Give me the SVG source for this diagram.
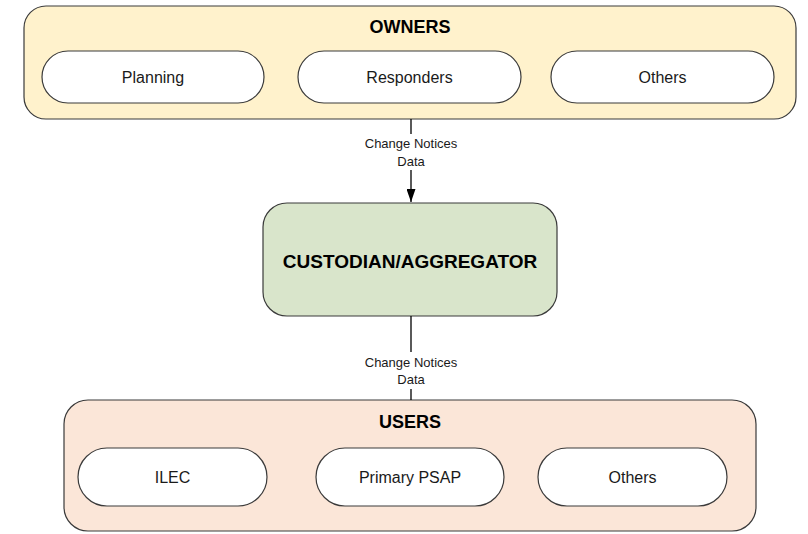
<svg xmlns="http://www.w3.org/2000/svg" width="808" height="534" viewBox="0 0 808 534">
  <style>
    .group { stroke: #3a3a3a; stroke-width: 1.2; }
    .owners { fill: #fff2cc; }
    .users { fill: #fbe6d8; }
    .core { fill: #d9e5cb; stroke: #3a3a3a; stroke-width: 1.2; }
    .pill { fill: #ffffff; stroke: #3a3a3a; stroke-width: 1.2; }
    .title { font-family: "Liberation Sans", Arial, sans-serif; font-weight: bold; font-size: 18px; fill: #000; text-anchor: middle; }
    .item { font-family: "Liberation Sans", Arial, sans-serif; font-size: 16px; fill: #1a1a1a; text-anchor: middle; }
    .label { font-family: "Liberation Sans", Arial, sans-serif; font-size: 13px; fill: #1a1a1a; text-anchor: middle; }
    .link { stroke: #000; stroke-width: 1.3; fill: none; }
  </style>
  <defs>
    <marker id="arrow" markerWidth="13" markerHeight="9" refX="13" refY="4.5" orient="auto" markerUnits="userSpaceOnUse">
      <path d="M0,0 L13,4.5 L0,9 z" fill="#000"/>
    </marker>
  </defs>
  <rect width="808" height="534" fill="#ffffff"/>

  <!-- data owners -->
  <g id="owners">
    <rect class="group owners" x="24" y="6" width="772" height="113" rx="22" ry="22"/>
    <text class="title" x="410" y="33">OWNERS</text>
  </g>
  <g id="owner-planning">
    <rect class="pill" x="42" y="51" width="222" height="52" rx="26" ry="26"/>
    <text class="item" x="153" y="83">Planning</text>
  </g>
  <g id="owner-responders">
    <rect class="pill" x="298" y="51" width="223" height="52" rx="26" ry="26"/>
    <text class="item" x="409.5" y="83">Responders</text>
  </g>
  <g id="owner-others">
    <rect class="pill" x="551" y="51" width="223" height="52" rx="26" ry="26"/>
    <text class="item" x="662.5" y="83">Others</text>
  </g>

  <!-- central custodian -->
  <g id="custodian">
    <rect class="core" x="263" y="203" width="294" height="113" rx="24" ry="24"/>
    <text class="title" x="410" y="268" style="font-size:19px">CUSTODIAN/AGGREGATOR</text>
  </g>

  <!-- data users -->
  <g id="users">
    <rect class="group users" x="64" y="400" width="692" height="131" rx="24" ry="24"/>
    <text class="title" x="410" y="428">USERS</text>
  </g>
  <g id="user-ilec">
    <rect class="pill" x="78" y="448" width="189" height="58" rx="29" ry="29"/>
    <text class="item" x="172.5" y="483">ILEC</text>
  </g>
  <g id="user-psap">
    <rect class="pill" x="316" y="448" width="188" height="58" rx="29" ry="29"/>
    <text class="item" x="410" y="483">Primary PSAP</text>
  </g>
  <g id="user-others">
    <rect class="pill" x="538" y="448" width="189" height="58" rx="29" ry="29"/>
    <text class="item" x="632.5" y="483">Others</text>
  </g>

  <!-- connectors -->
  <g id="connectors">
    <line class="link" x1="411" y1="119" x2="411" y2="134"/>
    <line class="link" x1="411" y1="170" x2="411" y2="202" marker-end="url(#arrow)"/>
    <text class="label" x="411" y="148">Change Notices</text>
    <text class="label" x="411" y="166">Data</text>

    <line class="link" x1="411" y1="316" x2="411" y2="352"/>
    <line class="link" x1="411" y1="389" x2="411" y2="400"/>
    <text class="label" x="411" y="367">Change Notices</text>
    <text class="label" x="411" y="384">Data</text>
  </g>
</svg>
